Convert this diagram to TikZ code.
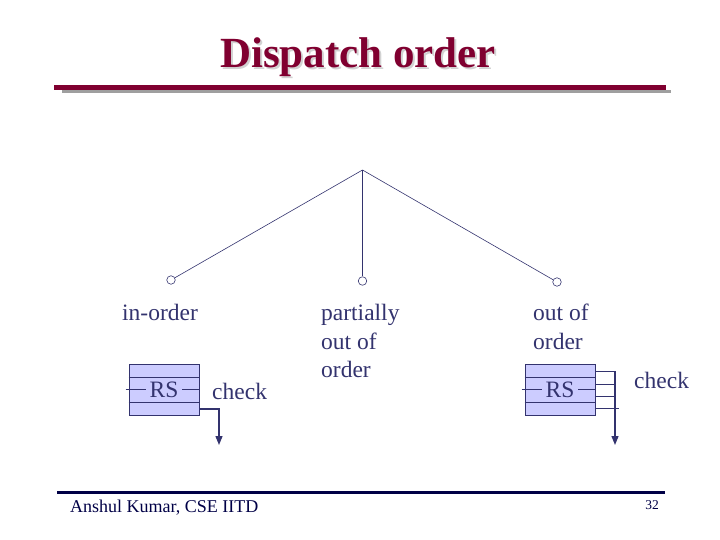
\documentclass[tikz,border=0pt]{standalone}
\usepackage{fontspec}
\setmainfont{Liberation Serif}
\usepackage{xcolor}
\usetikzlibrary{positioning,arrows.meta}
\definecolor{titlered}{RGB}{128,0,48}
\definecolor{inkblue}{RGB}{51,51,110}
\definecolor{rsfill}{RGB}{204,204,255}
\definecolor{footblue}{RGB}{0,0,70}
\newcommand{\shadowtext}[1]{\rlap{\hspace{2pt}\raisebox{-2pt}{\textcolor{gray!35}{#1}}}#1}

\begin{document}
\begin{tikzpicture}[x=1pt,y=-1pt,
  txt/.style={text=inkblue, font=\fontsize{23.5}{28.5}\selectfont, inner sep=0pt, align=left},
  leaf/.style={draw=inkblue, circle, minimum size=8.5pt, inner sep=0pt, line width=0.6pt},
  rs/.style={draw=inkblue, fill=rsfill, minimum width=70pt, minimum height=51pt,
             inner sep=0pt, line width=0.8pt},
  rslbl/.style={fill=rsfill, text=inkblue, font=\fontsize{23.5}{28.5}\selectfont,
                inner xsep=3.5pt, inner ysep=1pt},
  ln/.style={draw=inkblue, line width=0.8pt},
  outarrow/.style={draw=inkblue, line width=1.3pt, -{Triangle[length=9pt,width=7pt]}}
]
\useasboundingbox (0,0) rectangle (720,540);

% title and rule
\node[anchor=base, text=titlered, inner sep=0pt, font=\fontsize{43}{50}\selectfont\bfseries]
  (ttl) at (358,68) {\shadowtext{Dispatch order}};
\fill[gray!75] (62,90) rectangle (671,93.5);
\fill[titlered] (54,85.5) rectangle (666,90);

% tree
\coordinate (apex) at (362.5,170);
\node[leaf] (inord) at (171,280) {};
\node[leaf] (partord) at (362.5,281) {};
\node[leaf] (outord) at (557,282) {};
\draw[inkblue, line width=0.6pt] (apex) -- (inord);
\draw[inkblue, line width=0.6pt] (apex) -- (partord);
\draw[inkblue, line width=0.6pt] (apex) -- (outord);

\node[txt, anchor=base west] (lblin) at (122,320) {in-order};
\node[txt, anchor=north west] (lblpart) at (321,304) {partially\\out of\\order};
\node[txt, anchor=north west] (lblout) at (533,304) {out of\\order};

% in-order RS
\node[rs] (rsL) at (164,389.5) {};
\foreach \y in {377.5,402} \draw[ln] (rsL.west |- 0,\y) -- (rsL.east |- 0,\y);
\draw[ln] ([xshift=-3pt]rsL.west) -- (rsL.east);
\node[rslbl] (rsLtxt) at (rsL.center) {RS};
\node[txt, anchor=base west] (chkL) at (212,399) {check};
\coordinate (lbend) at (219,409);
\coordinate (lend) at (219,445);
\draw[outarrow] (rsL.east |- lbend) -- (lbend) -- (lend);

% out-of-order RS
\node[rs] (rsR) at (560,389.5) {};
\foreach \y in {377.5,402} \draw[ln] (rsR.west |- 0,\y) -- (rsR.east |- 0,\y);
\draw[ln] ([xshift=-3pt]rsR.west) -- (rsR.east);
\node[rslbl] (rsRtxt) at (rsR.center) {RS};
\node[txt, anchor=base west] (chkR) at (634,388) {check};
\foreach \y/\l in {371/21,384/21,396/21,408.5/24}
  \draw[ln] (rsR.east |- 0,\y) -- ++(\l,0);
\coordinate (rtop) at (615,371);
\coordinate (rend) at (615,445);
\draw[outarrow] (rtop) -- (rend);

% footer
\fill[footblue] (57,490.5) rectangle (665,493.5);
\node[anchor=base west, inner sep=0pt, text=footblue, font=\fontsize{18}{21}\selectfont]
  (auth) at (70,512.5) {Anshul Kumar, CSE IITD};
\node[anchor=base, inner sep=0pt, text=footblue, font=\fontsize{13.5}{16}\selectfont]
  (pgno) at (652,509) {32};
\end{tikzpicture}
\end{document}
